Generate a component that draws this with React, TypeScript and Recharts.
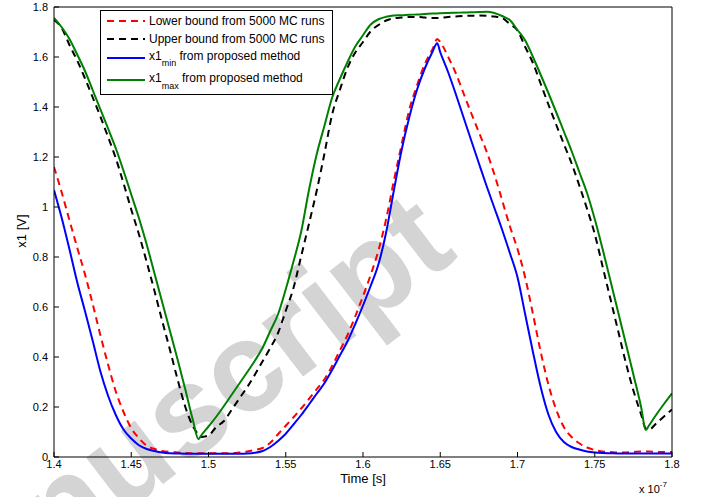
import { LineChart, Line, XAxis, YAxis, Legend } from "recharts";

// time axis, in units of 1e-7 s
const times = [
  1.4, 1.405, 1.41, 1.415, 1.42, 1.425, 1.43, 1.435, 1.44, 1.445,
  1.45, 1.455, 1.46, 1.465, 1.47, 1.475, 1.48, 1.485, 1.49, 1.4935,
  1.495, 1.5, 1.505, 1.51, 1.515, 1.52, 1.525, 1.53, 1.535, 1.54,
  1.545, 1.55, 1.555, 1.56, 1.565, 1.57, 1.575, 1.58, 1.585, 1.59,
  1.595, 1.6, 1.605, 1.61, 1.615, 1.62, 1.625, 1.63, 1.635, 1.64,
  1.645, 1.648, 1.65, 1.655, 1.66, 1.665, 1.67, 1.675, 1.68, 1.685,
  1.69, 1.695, 1.7, 1.705, 1.71, 1.715, 1.72, 1.725, 1.73, 1.735,
  1.74, 1.745, 1.75, 1.755, 1.76, 1.765, 1.77, 1.775, 1.78, 1.783,
  1.785, 1.79, 1.795, 1.8,
];

const lowerMC = [
  1.16, 1.058, 0.947, 0.838, 0.732, 0.613, 0.488, 0.37, 0.262, 0.18,
  0.115, 0.075, 0.045, 0.032, 0.024, 0.02, 0.018, 0.016, 0.015, 0.015,
  0.015, 0.015, 0.015, 0.015, 0.015, 0.018, 0.022, 0.028, 0.036, 0.057,
  0.091, 0.125, 0.159, 0.194, 0.232, 0.271, 0.31, 0.364, 0.426, 0.488,
  0.563, 0.643, 0.729, 0.826, 0.952, 1.106, 1.25, 1.39, 1.487, 1.572,
  1.631, 1.672, 1.66, 1.602, 1.536, 1.456, 1.376, 1.299, 1.222, 1.131,
  1.028, 0.924, 0.832, 0.717, 0.572, 0.421, 0.29, 0.19, 0.12, 0.08,
  0.055, 0.038, 0.028, 0.022, 0.02, 0.018, 0.018, 0.02, 0.022, 0.022,
  0.022, 0.02, 0.02, 0.02,
];

const upperMC = [
  1.748, 1.716, 1.648, 1.586, 1.515, 1.439, 1.362, 1.28, 1.195, 1.095,
  0.99, 0.89, 0.78, 0.665, 0.545, 0.43, 0.31, 0.2, 0.122, 0.09,
  0.08, 0.086, 0.12, 0.144, 0.189, 0.234, 0.279, 0.329, 0.383, 0.436,
  0.496, 0.585, 0.676, 0.804, 0.932, 1.064, 1.212, 1.37, 1.468, 1.557,
  1.618, 1.66, 1.703, 1.728, 1.746, 1.755, 1.758, 1.76, 1.76, 1.758,
  1.756, 1.756, 1.757, 1.76, 1.762, 1.764, 1.765, 1.766, 1.765, 1.762,
  1.756, 1.732, 1.706, 1.64, 1.576, 1.493, 1.41, 1.33, 1.252, 1.175,
  1.086, 0.993, 0.892, 0.764, 0.636, 0.508, 0.38, 0.266, 0.17, 0.114,
  0.109, 0.136, 0.163, 0.19,
];

const x1Min = [
  1.068, 0.956, 0.831, 0.7, 0.585, 0.466, 0.343, 0.245, 0.168, 0.11,
  0.074, 0.047, 0.032, 0.024, 0.018, 0.015, 0.014, 0.013, 0.013, 0.013,
  0.013, 0.013, 0.013, 0.013, 0.013, 0.013, 0.014, 0.017, 0.024, 0.04,
  0.064, 0.093, 0.13, 0.168, 0.21, 0.253, 0.295, 0.348, 0.406, 0.463,
  0.532, 0.606, 0.685, 0.771, 0.899, 1.067, 1.228, 1.36, 1.47, 1.554,
  1.621, 1.655, 1.619, 1.541, 1.453, 1.36, 1.267, 1.175, 1.084, 0.997,
  0.91, 0.817, 0.719, 0.57, 0.42, 0.28, 0.17, 0.1, 0.06, 0.04,
  0.03, 0.022, 0.018, 0.016, 0.015, 0.014, 0.014, 0.014, 0.014, 0.014,
  0.014, 0.014, 0.014, 0.014,
];

const x1Max = [
  1.756, 1.719, 1.672, 1.61, 1.545, 1.468, 1.391, 1.314, 1.235, 1.145,
  1.05, 0.955, 0.85, 0.735, 0.62, 0.505, 0.39, 0.27, 0.145, 0.071,
  0.084, 0.122, 0.161, 0.204, 0.249, 0.294, 0.339, 0.385, 0.437, 0.504,
  0.571, 0.671, 0.782, 0.902, 1.067, 1.21, 1.324, 1.437, 1.512, 1.58,
  1.642, 1.687, 1.73, 1.751, 1.761, 1.766, 1.767, 1.769, 1.77, 1.772,
  1.774, 1.774, 1.775, 1.776, 1.777, 1.778, 1.779, 1.78, 1.781, 1.776,
  1.764, 1.748, 1.708, 1.666, 1.6, 1.529, 1.456, 1.38, 1.302, 1.224,
  1.14, 1.056, 0.952, 0.834, 0.709, 0.583, 0.457, 0.33, 0.2, 0.108,
  0.125, 0.171, 0.214, 0.255,
];

const xTicks = [1.4, 1.45, 1.5, 1.55, 1.6, 1.65, 1.7, 1.75, 1.8];
const yTicks = [0, 0.2, 0.4, 0.6, 0.8, 1, 1.2, 1.4, 1.6, 1.8];

const data = times.map((t, i) => ({
  t,
  lower: lowerMC[i],
  upper: upperMC[i],
  min: x1Min[i],
  max: x1Max[i],
}));

const FONT = "'Liberation Sans', Arial, Helvetica, sans-serif";
const DASH = "7 5";

const legendRows = [
  { key: "lower", color: "#ff0000", dashed: true, lineY: 11, text: "Lower bound from 5000 MC runs" },
  { key: "upper", color: "#000000", dashed: true, lineY: 29, text: "Upper bound from 5000 MC runs" },
  { key: "min", color: "#0000ff", dashed: false, lineY: 48, sub: "min" },
  { key: "max", color: "#008000", dashed: false, lineY: 70, sub: "max" },
];

function LegendBox() {
  return (
    <svg width={233} height={85} style={{ display: "block" }}>
      <rect x={0.5} y={0.5} width={232} height={84} fill="#fff" stroke="#000" />
      {legendRows.map((r) => (
        <g key={r.key}>
          <line
            x1={7}
            x2={45}
            y1={r.lineY}
            y2={r.lineY}
            stroke={r.color}
            strokeWidth={2}
            strokeDasharray={r.dashed ? DASH : undefined}
          />
          {r.text ? (
            <text x={49} y={r.lineY + 4} fontSize={12} fontFamily={FONT} fill="#000">
              {r.text}
            </text>
          ) : (
            <text x={49} y={r.lineY + 2} fontSize={12} fontFamily={FONT} fill="#000">
              x1
              <tspan fontSize={9} dy={r.key === "max" ? 7 : 6}>{r.sub}</tspan>
              <tspan dy={r.key === "max" ? -7 : -6}> from proposed method</tspan>
            </text>
          )}
        </g>
      ))}
    </svg>
  );
}

function TimeLabel(props: any) {
  const vb = props.viewBox || { x: 54, y: 457, width: 618 };
  return (
    <g fontFamily={FONT} fill="#000">
      <text x={vb.x + vb.width / 2} y={483} textAnchor="middle" fontSize={13}>
        Time [s]
      </text>
      <text x={vb.x + vb.width - 33} y={493} fontSize={11}>
        x 10
        <tspan dy={-6} fontSize={8}>-7</tspan>
      </text>
    </g>
  );
}

function VoltLabel() {
  return (
    <text
      x={26}
      y={231}
      transform="rotate(-90, 26, 231)"
      textAnchor="middle"
      fontSize={13}
      fontFamily={FONT}
      fill="#000"
    >
      x1 [V]
    </text>
  );
}

export default function App() {
  const tickStyle = { fontSize: 11, fill: "#000", fontFamily: FONT };
  return (
    <div style={{ position: "absolute", left: 0, top: 0, width: 702, height: 497, background: "#fff" }}>
      <svg width={702} height={497} style={{ position: "absolute", left: 0, top: 0 }}>
        <text
          x={-82}
          y={672}
          transform="rotate(-37.5, -82, 672)"
          fontSize={128}
          fontWeight="bold"
          fontFamily={FONT}
          fill="#d4d4d4"
        >
          Manuscript
        </text>
      </svg>
      <div style={{ position: "absolute", left: 0, top: 0 }}>
        <LineChart width={702} height={497} data={data} margin={{ top: 6, right: 29, left: 0, bottom: 10 }}>
          <XAxis
            xAxisId="bottom"
            dataKey="t"
            type="number"
            domain={[1.4, 1.8]}
            ticks={xTicks}
            tickFormatter={(v: number) => String(v)}
            allowDataOverflow
            stroke="#000"
            tickSize={-5}
            tickMargin={8}
            tick={tickStyle}
            height={30}
            label={<TimeLabel />}
          />
          <XAxis
            xAxisId="top"
            orientation="top"
            dataKey="t"
            type="number"
            domain={[1.4, 1.8]}
            ticks={xTicks}
            stroke="#000"
            tickSize={-5}
            tick={false}
            height={1}
          />
          <YAxis
            yAxisId="left"
            type="number"
            domain={[0, 1.8]}
            ticks={yTicks}
            tickFormatter={(v: number) => String(v)}
            allowDataOverflow
            stroke="#000"
            tickSize={-5}
            tickMargin={11}
            tick={tickStyle}
            width={54}
            label={<VoltLabel />}
          />
          <YAxis
            yAxisId="right"
            orientation="right"
            type="number"
            domain={[0, 1.8]}
            ticks={yTicks}
            stroke="#000"
            tickSize={-5}
            tick={false}
            width={1}
          />
          <Legend
            layout="vertical"
            align="center"
            verticalAlign="middle"
            wrapperStyle={{ left: 100, top: 10, width: 233, height: 85 }}
            content={() => <LegendBox />}
          />
          <Line xAxisId="bottom" yAxisId="left" type="monotone" dataKey="lower" name="Lower bound from 5000 MC runs" stroke="#ff0000" strokeWidth={2} strokeDasharray={DASH} dot={false} isAnimationActive={false} />
          <Line xAxisId="bottom" yAxisId="left" type="monotone" dataKey="upper" name="Upper bound from 5000 MC runs" stroke="#000000" strokeWidth={2} strokeDasharray={DASH} dot={false} isAnimationActive={false} />
          <Line xAxisId="bottom" yAxisId="left" type="monotone" dataKey="min" name="x1min from proposed method" stroke="#0000ff" strokeWidth={2} dot={false} isAnimationActive={false} />
          <Line xAxisId="bottom" yAxisId="left" type="monotone" dataKey="max" name="x1max from proposed method" stroke="#008000" strokeWidth={2} dot={false} isAnimationActive={false} />
        </LineChart>
      </div>
    </div>
  );
}
